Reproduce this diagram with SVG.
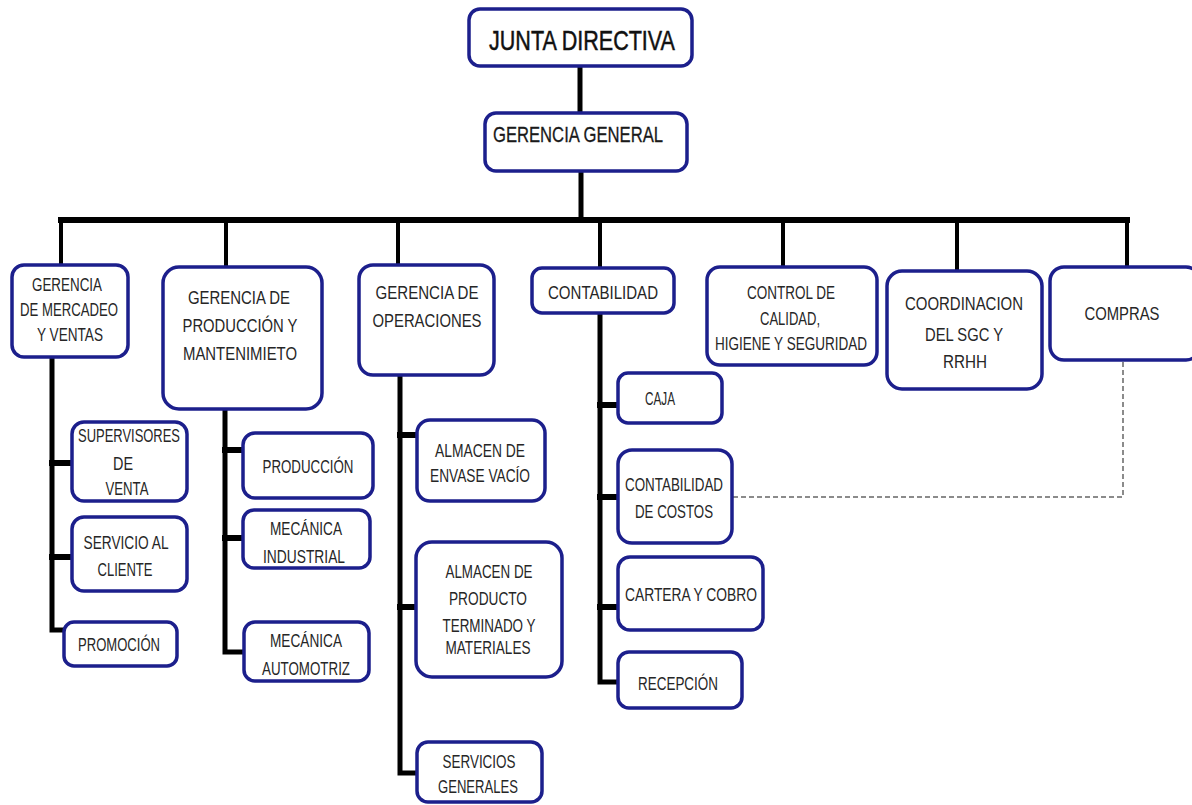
<svg xmlns="http://www.w3.org/2000/svg" width="1192" height="805" viewBox="0 0 1192 805">
<style>
.box{fill:#ffffff;stroke:#1c1f8c;stroke-width:3.5}
.t{font-family:"Liberation Sans",Arial,sans-serif;font-size:18px;fill:#262626;text-anchor:middle}
.big{font-size:28px;fill:#111111;stroke:#111111;stroke-width:0.5}
.mid{font-size:22px;fill:#1a1a1a;stroke:#1a1a1a;stroke-width:0.3}
.ln{stroke:#000000;fill:none;stroke-linecap:square}
.dash{stroke:#666666;stroke-width:1.5;fill:none;stroke-dasharray:5 3}
</style>
<rect width="1192" height="805" fill="#ffffff"/>
<g id="connectors">
<line class="ln" x1="580" y1="65" x2="580" y2="113" stroke-width="5"/>
<line class="ln" x1="581" y1="170" x2="581" y2="220" stroke-width="5"/>
<line class="ln" x1="61" y1="220" x2="1127" y2="220" stroke-width="6"/>
<line class="ln" x1="61" y1="220" x2="61" y2="265" stroke-width="4"/>
<line class="ln" x1="226" y1="220" x2="226" y2="267" stroke-width="4"/>
<line class="ln" x1="398" y1="220" x2="398" y2="265" stroke-width="4"/>
<line class="ln" x1="600" y1="220" x2="600" y2="268" stroke-width="4"/>
<line class="ln" x1="783" y1="220" x2="783" y2="267" stroke-width="4"/>
<line class="ln" x1="957" y1="220" x2="957" y2="272" stroke-width="4"/>
<line class="ln" x1="1127" y1="220" x2="1127" y2="267" stroke-width="4"/>
<polyline class="ln" points="52,357 52,630 65,630" stroke-width="5"/>
<line class="ln" x1="52" y1="463" x2="72" y2="463" stroke-width="6"/>
<line class="ln" x1="52" y1="557" x2="72" y2="557" stroke-width="6"/>
<polyline class="ln" points="225,410 225,652 243,652" stroke-width="5"/>
<line class="ln" x1="225" y1="450" x2="243" y2="450" stroke-width="6"/>
<line class="ln" x1="225" y1="538" x2="243" y2="538" stroke-width="6"/>
<polyline class="ln" points="400,375 400,773 417,773" stroke-width="5"/>
<line class="ln" x1="400" y1="435" x2="417" y2="435" stroke-width="6"/>
<line class="ln" x1="400" y1="607" x2="416" y2="607" stroke-width="6"/>
<polyline class="ln" points="600,313 600,682 618,682" stroke-width="5"/>
<line class="ln" x1="600" y1="405" x2="618" y2="405" stroke-width="6"/>
<line class="ln" x1="600" y1="497" x2="618" y2="497" stroke-width="6"/>
<line class="ln" x1="600" y1="607" x2="618" y2="607" stroke-width="6"/>
<polyline class="dash" points="733,497 1123,497 1123,360"/>
</g>
<g id="junta-directiva">
<rect class="box" x="469" y="9" width="223" height="57" rx="11"/>
<text class="t big" x="582" y="50" textLength="186" lengthAdjust="spacingAndGlyphs">JUNTA DIRECTIVA</text>
</g>
<g id="gerencia-general">
<rect class="box" x="485" y="113" width="202" height="58" rx="11"/>
<text class="t mid" x="578" y="142" textLength="170" lengthAdjust="spacingAndGlyphs">GERENCIA GENERAL</text>
</g>
<g id="gerencia-mercadeo">
<rect class="box" x="12" y="265" width="116" height="92" rx="12"/>
<text class="t" x="67" y="291" textLength="70" lengthAdjust="spacingAndGlyphs">GERENCIA</text>
<text class="t" x="69" y="316" textLength="98" lengthAdjust="spacingAndGlyphs">DE MERCADEO</text>
<text class="t" x="70" y="341" textLength="66" lengthAdjust="spacingAndGlyphs">Y VENTAS</text>
</g>
<g id="gerencia-produccion">
<rect class="box" x="163" y="267" width="159" height="142" rx="16"/>
<text class="t" x="239" y="304" textLength="102" lengthAdjust="spacingAndGlyphs">GERENCIA DE</text>
<text class="t" x="240" y="332" textLength="115" lengthAdjust="spacingAndGlyphs">PRODUCCIÓN Y</text>
<text class="t" x="240" y="360" textLength="114" lengthAdjust="spacingAndGlyphs">MANTENIMIETO</text>
</g>
<g id="gerencia-operaciones">
<rect class="box" x="359" y="265" width="135" height="110" rx="14"/>
<text class="t" x="427" y="299" textLength="103" lengthAdjust="spacingAndGlyphs">GERENCIA DE</text>
<text class="t" x="427" y="327" textLength="109" lengthAdjust="spacingAndGlyphs">OPERACIONES</text>
</g>
<g id="contabilidad">
<rect class="box" x="532" y="268" width="142" height="45" rx="10"/>
<text class="t" x="603" y="299" textLength="110" lengthAdjust="spacingAndGlyphs">CONTABILIDAD</text>
</g>
<g id="control-calidad">
<rect class="box" x="707" y="267" width="170" height="98" rx="13"/>
<text class="t" x="791" y="299" textLength="88" lengthAdjust="spacingAndGlyphs">CONTROL DE</text>
<text class="t" x="790" y="325" textLength="60" lengthAdjust="spacingAndGlyphs">CALIDAD,</text>
<text class="t" x="791" y="350" textLength="152" lengthAdjust="spacingAndGlyphs">HIGIENE Y SEGURIDAD</text>
</g>
<g id="coordinacion-sgc">
<rect class="box" x="887" y="271" width="155" height="118" rx="15"/>
<text class="t" x="964" y="310" textLength="118" lengthAdjust="spacingAndGlyphs">COORDINACION</text>
<text class="t" x="964" y="341" textLength="78" lengthAdjust="spacingAndGlyphs">DEL SGC Y</text>
<text class="t" x="965" y="368" textLength="44" lengthAdjust="spacingAndGlyphs">RRHH</text>
</g>
<g id="compras">
<rect class="box" x="1050" y="267" width="150" height="93" rx="14"/>
<text class="t" x="1122" y="320" textLength="75" lengthAdjust="spacingAndGlyphs">COMPRAS</text>
</g>
<g id="supervisores-venta">
<rect class="box" x="72" y="422" width="115" height="79" rx="12"/>
<text class="t" x="129" y="442" textLength="102" lengthAdjust="spacingAndGlyphs">SUPERVISORES</text>
<text class="t" x="123" y="470" textLength="20" lengthAdjust="spacingAndGlyphs">DE</text>
<text class="t" x="127" y="495" textLength="43" lengthAdjust="spacingAndGlyphs">VENTA</text>
</g>
<g id="servicio-cliente">
<rect class="box" x="72" y="517" width="115" height="74" rx="12"/>
<text class="t" x="126" y="549" textLength="85" lengthAdjust="spacingAndGlyphs">SERVICIO AL</text>
<text class="t" x="125" y="576" textLength="55" lengthAdjust="spacingAndGlyphs">CLIENTE</text>
</g>
<g id="promocion">
<rect class="box" x="64" y="622" width="113" height="44" rx="10"/>
<text class="t" x="119" y="651" textLength="82" lengthAdjust="spacingAndGlyphs">PROMOCIÓN</text>
</g>
<g id="produccion">
<rect class="box" x="243" y="433" width="130" height="65" rx="12"/>
<text class="t" x="308" y="473" textLength="91" lengthAdjust="spacingAndGlyphs">PRODUCCIÓN</text>
</g>
<g id="mecanica-industrial">
<rect class="box" x="243" y="510" width="127" height="58" rx="11"/>
<text class="t" x="306" y="535" textLength="72" lengthAdjust="spacingAndGlyphs">MECÁNICA</text>
<text class="t" x="304" y="563" textLength="82" lengthAdjust="spacingAndGlyphs">INDUSTRIAL</text>
</g>
<g id="mecanica-automotriz">
<rect class="box" x="244" y="622" width="125" height="59" rx="11"/>
<text class="t" x="306" y="647" textLength="72" lengthAdjust="spacingAndGlyphs">MECÁNICA</text>
<text class="t" x="306" y="675" textLength="88" lengthAdjust="spacingAndGlyphs">AUTOMOTRIZ</text>
</g>
<g id="almacen-envase">
<rect class="box" x="417" y="420" width="128" height="81" rx="13"/>
<text class="t" x="480" y="457" textLength="90" lengthAdjust="spacingAndGlyphs">ALMACEN  DE</text>
<text class="t" x="480" y="482" textLength="100" lengthAdjust="spacingAndGlyphs">ENVASE VACÍO</text>
</g>
<g id="almacen-producto">
<rect class="box" x="416" y="542" width="146" height="135" rx="16"/>
<text class="t" x="489" y="578" textLength="87" lengthAdjust="spacingAndGlyphs">ALMACEN DE</text>
<text class="t" x="488" y="605" textLength="78" lengthAdjust="spacingAndGlyphs">PRODUCTO</text>
<text class="t" x="489" y="632" textLength="93" lengthAdjust="spacingAndGlyphs">TERMINADO Y</text>
<text class="t" x="488" y="654" textLength="85" lengthAdjust="spacingAndGlyphs">MATERIALES</text>
</g>
<g id="servicios-generales">
<rect class="box" x="417" y="742" width="125" height="60" rx="11"/>
<text class="t" x="479" y="768" textLength="73" lengthAdjust="spacingAndGlyphs">SERVICIOS</text>
<text class="t" x="478" y="793" textLength="80" lengthAdjust="spacingAndGlyphs">GENERALES</text>
</g>
<g id="caja">
<rect class="box" x="618" y="373" width="104" height="50" rx="10"/>
<text class="t" x="660" y="405" textLength="30" lengthAdjust="spacingAndGlyphs">CAJA</text>
</g>
<g id="contabilidad-costos">
<rect class="box" x="618" y="450" width="114" height="93" rx="14"/>
<text class="t" x="674" y="491" textLength="98" lengthAdjust="spacingAndGlyphs">CONTABILIDAD</text>
<text class="t" x="674" y="518" textLength="78" lengthAdjust="spacingAndGlyphs">DE COSTOS</text>
</g>
<g id="cartera-cobro">
<rect class="box" x="618" y="557" width="145" height="73" rx="12"/>
<text class="t" x="691" y="601" textLength="132" lengthAdjust="spacingAndGlyphs">CARTERA Y COBRO</text>
</g>
<g id="recepcion">
<rect class="box" x="618" y="652" width="124" height="56" rx="11"/>
<text class="t" x="678" y="690" textLength="80" lengthAdjust="spacingAndGlyphs">RECEPCIÓN</text>
</g>
</svg>
